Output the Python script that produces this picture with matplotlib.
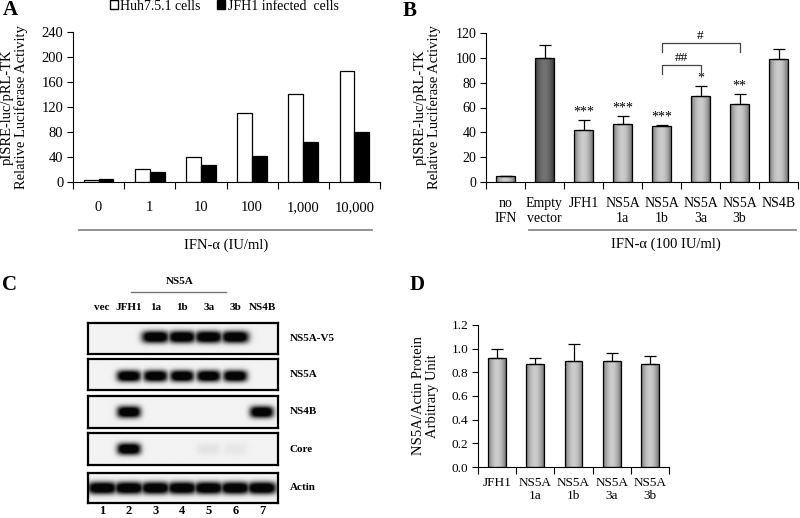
import numpy as np
import matplotlib
matplotlib.use("Agg")
import matplotlib.pyplot as plt
from matplotlib.patches import Patch
from matplotlib.transforms import blended_transform_factory

plt.rcParams["font.family"] = ["Liberation Serif", "DejaVu Serif"]

# ---- data ----
# panel A
dose_labels = ["0", "1", "10", "100", "1,000", "10,000"]
huh_vals = [3, 21, 40, 111, 141, 178]
jfh1_vals = [5, 16, 27, 42, 64, 80]

# panel B
b_labels = ["no\nIFN", "Empty\nvector", "JFH1", "NS5A\n1a", "NS5A\n1b", "NS5A\n3a", "NS5A\n3b", "NS4B"]
b_vals = [5, 100, 42, 47, 45, 69, 63, 99]
b_errs = [0, 10, 8, 6, 0.8, 8, 8, 8]
b_stars = ["", "", "***", "***", "***", "*", "**", ""]
b_brackets = [(4, 5, 94, "##"), (4, 6, 112, "#")]  # (from, to, height, mark)

# panel C (western blot band intensities, lanes 1-7)
lane_names = ["vec", "JFH1", "1a", "1b", "3a", "3b", "NS4B"]
blot_rows = ["NS5A-V5", "NS5A", "NS4B", "Core", "Actin"]
blot_bands = [
    [0, 0, 1, 1, 1, 1, 0],
    [0, 1, 1, 1, 1, 1, 0],
    [0, 1, 0, 0, 0, 0, 1],
    [0, 1, 0, 0, 0.05, 0.04, 0],
    [1, 1, 1, 1, 1, 1, 1],
]

# panel D
d_labels = ["JFH1", "NS5A\n1a", "NS5A\n1b", "NS5A\n3a", "NS5A\n3b"]
d_vals = [0.92, 0.87, 0.90, 0.90, 0.87]
d_errs = [0.08, 0.05, 0.14, 0.06, 0.07]

W, H = 800, 518
fig = plt.figure(figsize=(W / 100, H / 100), dpi=100)


def px_axes(l, t, r, b):
    return fig.add_axes([l / W, 1 - b / H, (r - l) / W, (b - t) / H])


def style_axis(ax, n, fs, pad):
    for s in ["top", "right"]:
        ax.spines[s].set_visible(False)
    ax.set_xlim(-0.5, n - 0.5)
    ax.set_xticks(np.arange(n))
    ax.set_xticks(np.arange(-0.5, n, 1), minor=True)
    ax.tick_params(axis="x", which="major", length=0, pad=pad, labelsize=fs)
    ax.tick_params(axis="x", which="minor", length=5, direction="out", width=0.8)
    ax.tick_params(axis="y", length=4, width=0.8, direction="out", labelsize=fs, pad=3)


def gradient_bars(ax, bars, edge_rgb, mid_rgb):
    t = np.linspace(0, 1, 80)
    prof = np.sin(np.pi * t) ** 0.8
    e = np.array(edge_rgb)
    m = np.array(mid_rgb)
    grad = e[None, :] + (m - e)[None, :] * prof[:, None]
    grad = grad[None, :, :]
    for bar in bars:
        x0, y0 = bar.get_xy()
        img = ax.imshow(grad, extent=[x0, x0 + bar.get_width(), y0, y0 + bar.get_height()],
                        aspect="auto", zorder=2, interpolation="bilinear")
        img.set_clip_path(bar)


# ---------------- Panel A ----------------
axA = px_axes(73, 32, 380, 182)
xa = np.arange(len(dose_labels))
bw = 0.29
axA.bar(xa - bw / 2, huh_vals, bw, color="white", edgecolor="black", linewidth=0.9)
axA.bar(xa + bw / 2, jfh1_vals, bw, color="black", edgecolor="black", linewidth=0.9)
style_axis(axA, len(dose_labels), 10.5, 14)
axA.set_xticklabels(dose_labels)
axA.set_ylim(0, 240)
axA.set_yticks(np.arange(0, 241, 40))
axA.set_ylabel("pISRE-luc/pRL-TK\nRelative Luciferase Activity", fontsize=10.5, linespacing=1.05)
axA.yaxis.set_label_coords(-0.145, 0.5)
trA = blended_transform_factory(axA.transData, axA.transAxes)
axA.plot([-0.38, 5.35], [-0.32, -0.32], color="#8a8a8a", lw=1.3, clip_on=False, transform=trA)
axA.text(2.5, -0.42, "IFN-α (IU/ml)", transform=trA, ha="center", va="center", fontsize=10.5)
fig.legend(handles=[Patch(facecolor="white", edgecolor="black", label="Huh7.5.1 cells"),
                    Patch(facecolor="black", edgecolor="black", label="JFH1 infected  cells")],
           loc="center", bbox_to_anchor=(224 / W, 1 - 6 / H), ncol=2, frameon=False,
           fontsize=10, handlelength=0.6, handleheight=0.6, handletextpad=0.15,
           columnspacing=1.2, borderaxespad=0, borderpad=0)

# ---------------- Panel B ----------------
axB = px_axes(486, 33, 798, 182)
xb = np.arange(len(b_labels))
bars_b = axB.bar(xb, b_vals, 0.47, facecolor="none", edgecolor="black", linewidth=0.9, zorder=3)
gradient_bars(axB, [bars_b[1]], (0.20, 0.20, 0.20), (0.45, 0.45, 0.45))
gradient_bars(axB, [b for i, b in enumerate(bars_b) if i != 1], (0.42, 0.42, 0.42), (0.80, 0.80, 0.80))
axB.errorbar(xb, b_vals, yerr=[np.zeros(len(b_vals)), b_errs], fmt="none", ecolor="black",
             elinewidth=0.9, capsize=4, capthick=0.9, zorder=4)
for i, s in enumerate(b_stars):
    if s:
        axB.text(xb[i], b_vals[i] + b_errs[i] + 1.2, s, ha="center", va="bottom", fontsize=10)
for i0, i1, yb, mark in b_brackets:
    axB.plot([i0, i0, i1, i1], [yb - 7, yb, yb, yb - 7], color="#444444", lw=0.9, clip_on=False, zorder=5)
    axB.text((i0 + i1) / 2, yb + 1, mark, ha="center", va="bottom", fontsize=9.5)
style_axis(axB, len(b_labels), 10, 11)
axB.set_xticklabels(b_labels, linespacing=1.15)
axB.set_ylim(0, 120)
axB.set_yticks(np.arange(0, 121, 20))
axB.set_ylabel("pISRE-luc/pRL-TK\nRelative Luciferase Activity", fontsize=10.5, linespacing=1.05)
axB.yaxis.set_label_coords(-0.143, 0.5)
trB = blended_transform_factory(axB.transData, axB.transAxes)
axB.plot([0.6, 7.45], [-0.322, -0.322], color="#8a8a8a", lw=1.3, clip_on=False, transform=trB)
axB.text(4.1, -0.42, "IFN-α (100 IU/ml)", transform=trB, ha="center", va="center", fontsize=10.5)
axB.set_xlim(-0.5, len(b_labels) - 0.5)

# ---------------- Panel C (blot) ----------------
row_boxes = [(323, 354), (359, 390), (396, 428), (433, 465), (473, 503)]
band_w = [0.52, 0.46, 0.45, 0.45, 0.56]
band_h = [0.20, 0.19, 0.19, 0.19, 0.21]
band_yc = [0.55, 0.45, 0.5, 0.5, 0.5]
lanes = np.arange(1, len(lane_names) + 1)
xs = np.linspace(0.47, 7.6, 300)
ys = np.linspace(0, 1, 60)
XX, YY = np.meshgrid(xs, ys)
for r, (top, bot) in enumerate(row_boxes):
    ax = px_axes(88, top, 278, bot)
    inten = np.zeros_like(XX)
    for j, a in enumerate(blot_bands[r]):
        if a <= 0:
            continue
        shape = np.exp(-(np.abs(XX - lanes[j]) / band_w[r]) ** 4
                       - (np.abs(YY - band_yc[r]) / band_h[r]) ** 2.5)
        inten = np.maximum(inten, a * shape)
    ax.imshow(0.95 - 0.93 * np.clip(inten * 1.3, 0, 1), cmap="gray", vmin=0, vmax=1, origin="lower",
              extent=[xs[0], xs[-1], 0, 1], aspect="auto", interpolation="bilinear")
    ax.set_xlim(xs[0], xs[-1])
    ax.set_ylim(0, 1)
    ax.set_xticks([])
    ax.set_yticks([])
    for s in ax.spines.values():
        s.set_linewidth(1.6)
    fig.text(290 / W, 1 - (top + bot) / 2 / H, blot_rows[r], ha="left", va="center",
             fontsize=8, fontweight="bold")
    if r == 0:
        for j, nm in enumerate(lane_names):
            ax.annotate(nm, xy=(lanes[j], 1), xycoords=("data", "axes fraction"),
                        xytext=(0, 11), textcoords="offset points", ha="center", va="center",
                        fontsize=8, fontweight="bold")
        tr = blended_transform_factory(ax.transData, fig.transFigure)
        ax.plot([2.1, 5.65], [1 - 292 / H] * 2, color="#777777", lw=1.0, transform=tr, clip_on=False)
        ax.text(3.9, 1 - 282 / H, "NS5A", transform=tr, ha="center", va="center",
                fontsize=8, fontweight="bold")
    if r == len(row_boxes) - 1:
        for j in range(len(lanes)):
            ax.annotate(str(lanes[j]), xy=(lanes[j], 0), xycoords=("data", "axes fraction"),
                        xytext=(0, -5.5), textcoords="offset points", ha="center", va="center",
                        fontsize=9, fontweight="bold")

# ---------------- Panel D ----------------
axD = px_axes(478, 325, 669, 467)
xd = np.arange(len(d_labels))
bars_d = axD.bar(xd, d_vals, 0.47, facecolor="none", edgecolor="black", linewidth=0.9, zorder=3)
gradient_bars(axD, bars_d, (0.42, 0.42, 0.42), (0.80, 0.80, 0.80))
axD.errorbar(xd, d_vals, yerr=[np.zeros(len(d_vals)), d_errs], fmt="none", ecolor="black",
             elinewidth=0.9, capsize=4, capthick=0.9, zorder=4)
style_axis(axD, len(d_labels), 9.5, 7)
axD.set_xticklabels(d_labels, linespacing=1.15)
axD.set_ylim(0, 1.2)
axD.set_yticks(np.arange(0, 1.21, 0.2))
axD.set_yticklabels([f"{v:.1f}" for v in np.arange(0, 1.21, 0.2)])
axD.set_ylabel("NS5A/Actin Protein\nArbitrary Unit", fontsize=10.5, linespacing=1.05)
axD.yaxis.set_label_coords(-0.205, 0.5)
axD.set_xlim(-0.5, len(d_labels) - 0.5)

# panel letters
for lx, ly, letter in [(3, 15, "A"), (403, 16, "B"), (2, 290, "C"), (410, 290, "D")]:
    fig.text(lx / W, 1 - ly / H, letter, ha="left", va="baseline", fontsize=15, fontweight="bold")

fig.savefig("out.png", dpi=100)
